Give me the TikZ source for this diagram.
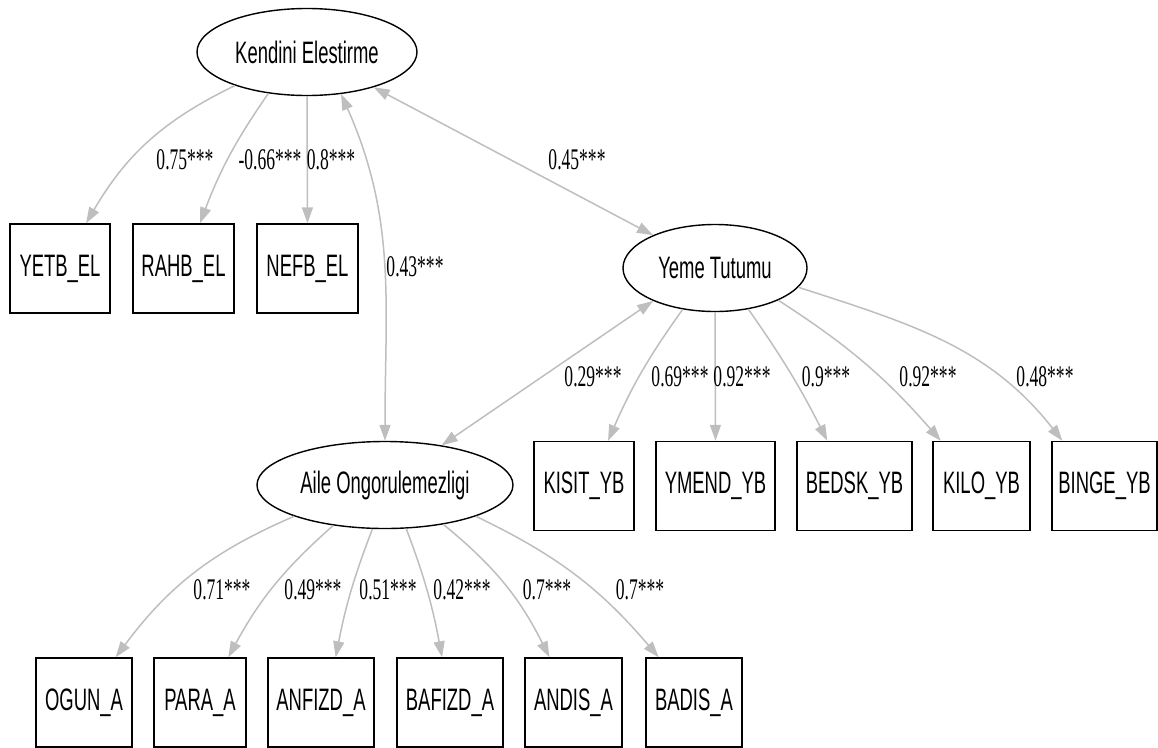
\documentclass[tikz,border=0pt]{standalone}
\usepackage{fontspec}
\setmainfont{Liberation Serif}
\newfontfamily\varfont[FakeStretch=0.595]{Liberation Sans}
\newfontfamily\coeffont[FakeStretch=0.585]{Liberation Serif}
\usetikzlibrary{arrows.meta,shapes.geometric}
\definecolor{pathgray}{RGB}{190,190,190}

\begin{document}
\begin{tikzpicture}[x=1pt,y=-1pt,
  latent/.style={draw, ellipse, line width=1.4pt, inner sep=0pt, minimum height=87pt, font=\varfont\fontsize{31}{36}\selectfont},
  manifest/.style={draw, rectangle, line width=1.4pt, inner sep=0pt, minimum height=89pt, font=\varfont\fontsize{31}{36}\selectfont},
  coef/.style={inner sep=0pt, font=\coeffont\fontsize{30}{34}\selectfont},
  load/.style={draw=pathgray, line width=1.5pt, -{Triangle[length=16pt,width=11pt]}},
  cov/.style={draw=pathgray, line width=1.5pt, {Triangle[length=16pt,width=11pt]}-{Triangle[length=16pt,width=11pt]}}]
\useasboundingbox (0,0) rectangle (1158,747);

% Latent variables
\node[latent, minimum width=220pt] (ke) at (307,52) {Kendini Elestirme};
\node[latent, minimum width=184pt] (yt) at (715,268) {Yeme Tutumu};
\node[latent, minimum width=256pt] (ao) at (385,485) {Aile Ongorulemezligi};

% Indicators of Kendini Elestirme
\node[manifest, minimum width=100pt] (yetb) at (60,268.5) {YETB\_EL};
\node[manifest, minimum width=101pt] (rahb) at (183.5,268.5) {RAHB\_EL};
\node[manifest, minimum width=101pt] (nefb) at (307.5,268.5) {NEFB\_EL};

% Indicators of Yeme Tutumu
\node[manifest, minimum width=100pt] (kisit) at (584,486) {KISIT\_YB};
\node[manifest, minimum width=119pt] (ymend) at (715.5,486) {YMEND\_YB};
\node[manifest, minimum width=115pt] (bedsk) at (854.5,486) {BEDSK\_YB};
\node[manifest, minimum width=97pt] (kilo) at (981.5,486) {KILO\_YB};
\node[manifest, minimum width=105pt] (binge) at (1104.5,486) {BINGE\_YB};

% Indicators of Aile Ongorulemezligi
\node[manifest, minimum width=96pt] (ogun) at (84,702.5) {OGUN\_A};
\node[manifest, minimum width=92pt] (para) at (200,702.5) {PARA\_A};
\node[manifest, minimum width=106pt] (anfizd) at (321,702.5) {ANFIZD\_A};
\node[manifest, minimum width=106pt] (bafizd) at (450,702.5) {BAFIZD\_A};
\node[manifest, minimum width=97pt] (andis) at (573.5,702.5) {ANDIS\_A};
\node[manifest, minimum width=96pt] (badis) at (694,702.5) {BADIS\_A};

% Loadings
\draw[load] (ke.-155) to[bend right=17] (yetb.60);
\draw[load] (ke.-133) to[bend right=7] (rahb.70);
\draw[load] (ke.-90) -- (nefb.north);

\draw[load] (yt.-128) to[bend right=6] (kisit.62);
\draw[load] (yt.-90) -- (ymend.north);
\draw[load] (yt.-51) to[bend left=4] (bedsk.121);
\draw[load] (yt.-27) to[bend left=8] (kilo.132);
\draw[load] (yt.-13) to[out=-18,in=128] (binge.133);

\draw[load] (ao.-161) to[bend right=15] (ogun.55);
\draw[load] (ao.-142) to[bend right=10] (para.58);
\draw[load] (ao.-106) to[bend right=5] (anfizd.72);
\draw[load] (ao.-64) to[bend left=5] (bafizd.100);
\draw[load] (ao.-34) to[bend left=12] (andis.118);
\draw[load] (ao.-19) to[bend left=12] (badis.128);

% Covariances
\draw[cov] (ke.-51) to[out=-66,in=90] (ao.north);
\draw[cov] (ke) -- (yt);
\draw[cov] (yt.-152) -- (ao.35);

% Estimates
\node[coef] (c1) at (185,160) {0.75***};
\node[coef] (c2) at (270,160) {-0.66***};
\node[coef] (c3) at (331,160) {0.8***};
\node[coef] (c4) at (415,267) {0.43***};
\node[coef] (c5) at (577,160) {0.45***};

\node[coef] (c6) at (593,377) {0.29***};
\node[coef] (c7) at (680,377) {0.69***};
\node[coef] (c8) at (742,377) {0.92***};
\node[coef] (c9) at (826,377) {0.9***};
\node[coef] (c10) at (928,377) {0.92***};
\node[coef] (c11) at (1045,377) {0.48***};

\node[coef] (c12) at (222,590) {0.71***};
\node[coef] (c13) at (313,590) {0.49***};
\node[coef] (c14) at (388,590) {0.51***};
\node[coef] (c15) at (462,590) {0.42***};
\node[coef] (c16) at (547,590) {0.7***};
\node[coef] (c17) at (640,590) {0.7***};
\end{tikzpicture}
\end{document}
